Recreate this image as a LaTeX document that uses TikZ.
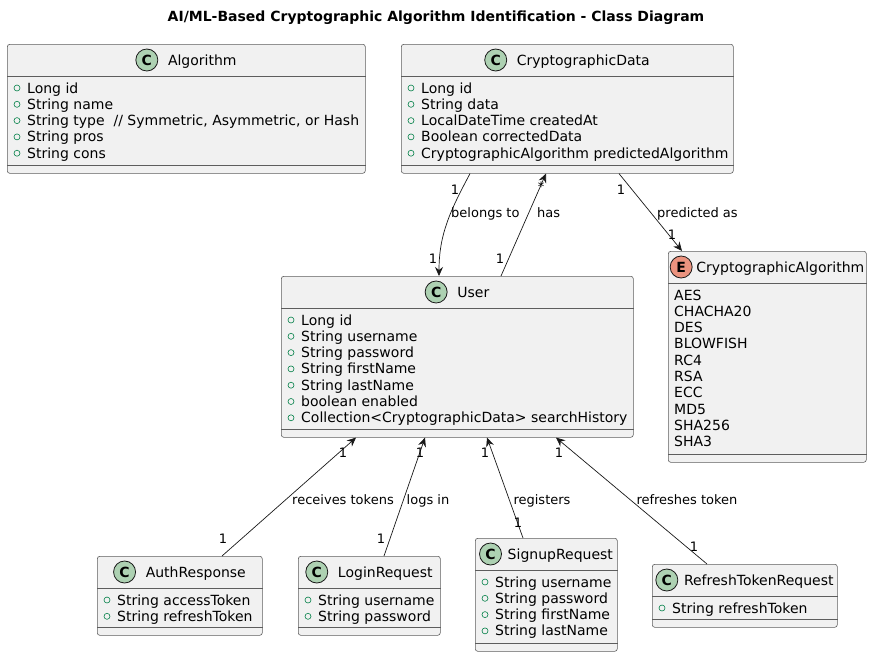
\documentclass[tikz,border=0pt]{standalone}
\usepackage{fontspec}
\setmainfont{DejaVu Sans}
\usepackage{tikz}
\usetikzlibrary{arrows.meta}
\tikzset{>={Stealth[length=9pt,width=8pt,inset=3pt]}}

\definecolor{boxfill}{HTML}{F1F1F1}
\definecolor{boxline}{HTML}{181818}
\definecolor{classicon}{HTML}{ADD1B2}
\definecolor{enumicon}{HTML}{EB937F}
\definecolor{fieldgreen}{HTML}{038048}

\tikzset{
  classbox/.style={draw=boxline!70, fill=boxfill, line width=0.6pt, rounded corners=2.5pt, inner sep=0pt},
  sepline/.style={draw=boxline!70, line width=0.6pt},
  classname/.style={font=\fontsize{14}{16}\selectfont, inner sep=0pt, text height=10pt, text depth=0pt},
  field/.style={font=\fontsize{14}{16}\selectfont, anchor=west, inner sep=0pt, text height=10pt, text depth=0pt},
  fieldmark/.style={circle, draw=fieldgreen, line width=0.6pt, minimum size=6pt, inner sep=0pt},
  icon/.style={circle, draw=boxline, line width=0.8pt, minimum size=22pt, inner sep=0pt, font=\fontsize{14}{16}\selectfont\bfseries},
  elabel/.style={font=\fontsize{13}{15}\selectfont, inner sep=0pt, text height=9.5pt, text depth=0pt},
  link/.style={->, draw=boxline, line width=0.7pt},
}

% class box: [gap], id, corner, width, height, icon colour, icon letter, name
\newcommand{\umlclass}[8][10]{%
  \node[classbox, minimum width=#4pt, minimum height=#5pt, anchor=north west] (#2) at #3 {};
  \draw[sepline] ([yshift=-32pt]#2.north west) -- ([yshift=-32pt]#2.north east);
  \draw[sepline] ([yshift=8pt]#2.south west) -- ([yshift=8pt]#2.south east);
  \node[classname] (#2-name) at ([xshift={(22pt+#1pt)/2},yshift=-16pt]#2.north) {#8};
  \node[icon, fill=#6] (#2-icon) at ([xshift={-11pt-#1pt}]#2-name.west) {#7};
}
% public fields
\newcommand{\umlfields}[2]{%
  \foreach \f [count=\i, evaluate=\i as \dy using -44-(\i-1)*16.3] in {#2} {
    \node[fieldmark] at ([xshift=10pt,yshift=\dy pt]#1.north west) {};
    \node[field] at ([xshift=20pt,yshift=\dy pt]#1.north west) {\f};
  }
}
% enum values
\newcommand{\umlvalues}[2]{%
  \foreach \f [count=\i, evaluate=\i as \dy using -44-(\i-1)*16.3] in {#2} {
    \node[field] at ([xshift=6pt,yshift=\dy pt]#1.north west) {\f};
  }
}

\begin{document}
\begin{tikzpicture}[x=1pt, y=-1pt]
  \useasboundingbox (0,0) rectangle (873,657);

  \node[font=\fontsize{14}{16}\selectfont\bfseries] (title) at (436,18) {AI/ML-Based Cryptographic Algorithm Identification - Class Diagram};

  % top row
  \umlclass{algo}{(7,44)}{358}{129}{classicon}{C}{Algorithm}
  \umlfields{algo}{Long id, String name, {String type\ \ // Symmetric, Asymmetric, or Hash}, String pros, String cons}

  \umlclass{cdata}{(401,44)}{332}{129}{classicon}{C}{CryptographicData}
  \umlfields{cdata}{Long id, String data, LocalDateTime createdAt, Boolean correctedData, CryptographicAlgorithm predictedAlgorithm}

  % middle
  \umlclass{user}{(281,276)}{352}{161}{classicon}{C}{User}
  \umlfields{user}{Long id, String username, String password, String firstName, String lastName, boolean enabled, Collection<CryptographicData> searchHistory}

  \umlclass[4]{enum}{(668,251)}{198}{211}{enumicon}{E}{CryptographicAlgorithm}
  \umlvalues{enum}{AES, CHACHA20, DES, BLOWFISH, RC4, RSA, ECC, MD5, SHA256, SHA3}

  % bottom row
  \umlclass{auth}{(97,556)}{165}{79}{classicon}{C}{AuthResponse}
  \umlfields{auth}{String accessToken, String refreshToken}

  \umlclass{login}{(298,556)}{142}{79}{classicon}{C}{LoginRequest}
  \umlfields{login}{String username, String password}

  \umlclass[6]{signup}{(475,538)}{142}{113}{classicon}{C}{SignupRequest}
  \umlfields{signup}{String username, String password, String firstName, String lastName}

  \umlclass[6]{refresh}{(652,564)}{185}{63}{classicon}{C}{RefreshTokenRequest}
  \umlfields{refresh}{String refreshToken}

  % associations
  \draw[link] ([xshift=69pt]cdata.south west) to[out=-118,in=90] ([xshift=158pt]user.north west);
  \node[elabel] (belongs-a) at (455,190) {1};
  \node[elabel, anchor=west] (belongs) at (451,213) {belongs to};
  \node[elabel] (belongs-b) at (433,259) {1};

  \draw[link] ([xshift=220pt]user.north west) -- ([xshift=145pt]cdata.south west);
  \node[elabel] (has-a) at (500,259) {1};
  \node[elabel, anchor=west] (has) at (537,213) {has};
  \node[elabel] (has-b) at (541,187) {*};

  \draw[link] ([xshift=218pt]cdata.south west) -- ([xshift=14pt]enum.north west);
  \node[elabel] (pred-a) at (621,190) {1};
  \node[elabel, anchor=west] (pred) at (657,213) {predicted as};
  \node[elabel] (pred-b) at (672,235) {1};

  \draw[link] ([xshift=125pt]auth.north west) -- ([xshift=75pt]user.south west);
  \node[elabel] (recv-a) at (343,453) {1};
  \node[elabel] (recv) at (343,500) {receives tokens};
  \node[elabel] (recv-b) at (223,539) {1};

  \draw[link] ([xshift=86pt]login.north west) -- ([xshift=144pt]user.south west);
  \node[elabel] (logs-a) at (420,453) {1};
  \node[elabel] (logs) at (428,500) {logs in};
  \node[elabel] (logs-b) at (381,539) {1};

  \draw[link] ([xshift=48pt]signup.north west) -- ([xshift=206pt]user.south west);
  \node[elabel] (reg-a) at (485,453) {1};
  \node[elabel] (reg) at (542,500) {registers};
  \node[elabel] (reg-b) at (518,523) {1};

  \draw[link] ([xshift=55pt]refresh.north west) -- ([xshift=275pt]user.south west);
  \node[elabel] (ref-a) at (559,453) {1};
  \node[elabel] (ref) at (687,500) {refreshes token};
  \node[elabel] (ref-b) at (694,547) {1};
\end{tikzpicture}
\end{document}
